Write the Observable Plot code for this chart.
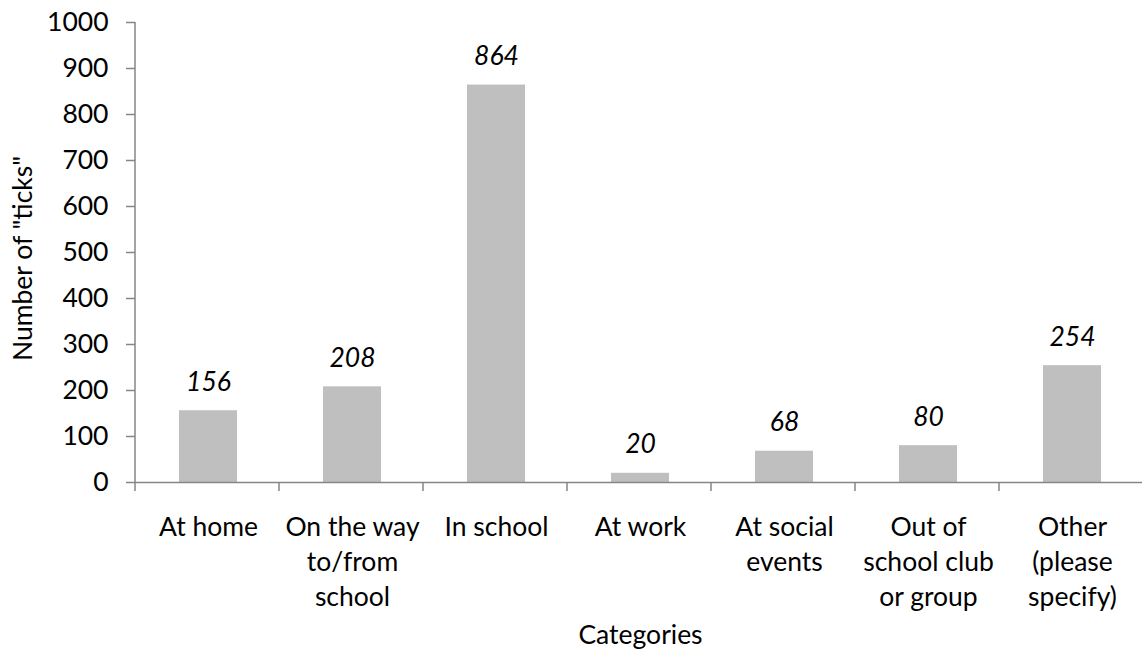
<!DOCTYPE html>
<html>
<head>
<meta charset="utf-8">
<script src="https://cdn.jsdelivr.net/npm/d3@7"></script>
<script src="https://cdn.jsdelivr.net/npm/@observablehq/plot@0.6"></script>
<style>
  html, body { margin: 0; padding: 0; background: #fff; overflow: hidden; }
  #chart svg { display: block; overflow: hidden; }
</style>
</head>
<body>
<div id="chart"></div>
<script>
const categories = ["At home", "On the way to/from school", "In school", "At work", "At social events", "Out of school club or group", "Other (please specify)"];
const tickLabels = ["At home", "On the way\nto/from\nschool", "In school", "At work", "At social\nevents", "Out of\nschool club\nor group", "Other\n(please\nspecify)"];
const counts = [156, 208, 864, 20, 68, 80, 254];
const yTicks = [0, 100, 200, 300, 400, 500, 600, 700, 800, 900, 1000];
const yLabel = "Number of \"ticks\"";
const xLabel = "Categories";

const data = categories.map((c, i) => ({category: c, label: tickLabels[i], value: counts[i]}));

const FONT = "Lato, 'Open Sans', sans-serif";
const FS = 26.5;
const AXIS = "#868686";

// boundary tick marks on the x axis and the y axis line, placed via the scales
function axisDecor(index, scales, values, dimensions) {
  const x = scales.x, y = scales.y;
  const g = d3.create("svg:g").attr("stroke", AXIS).attr("stroke-width", 1.5);
  const [r0] = x.range();
  const step = x.step();
  const y0 = y(0);
  g.append("line").attr("x1", r0).attr("x2", r0).attr("y1", y(1000)).attr("y2", y0);
  for (let i = 0; i <= categories.length; i++) {
    const xb = r0 + i * step;
    g.append("line").attr("x1", xb).attr("x2", xb).attr("y1", y0).attr("y2", y0 + 9);
  }
  return g.node();
}

const plot = Plot.plot({
  width: 1142,
  height: 650,
  marginLeft: 135,
  marginRight: -3,
  marginTop: 22,
  marginBottom: 168,
  style: {fontFamily: FONT, fontSize: FS + "px", color: "#000", background: "#fff"},
  x: {type: "band", domain: categories, paddingInner: 0.6, paddingOuter: 0.3, axis: null},
  y: {domain: [0, 1000], axis: null},
  marks: [
    Plot.barY(data, {x: "category", y: "value", fill: "#BFBFBF"}),
    Plot.ruleY([0], {stroke: AXIS, strokeWidth: 1.5}),
    axisDecor,
    Plot.axisY({ticks: yTicks, tickSize: 9, tickPadding: 18, stroke: AXIS, strokeWidth: 1.5, fill: "#000", fontSize: FS, label: null, tickFormat: d => String(d)}),
    Plot.text(data, {x: "category", y: "value", text: d => String(d.value), dy: -20, lineAnchor: "bottom", fontStyle: "italic", fontSize: FS, fill: "#000"}),
    Plot.text(data, {x: "category", y: () => 0, text: "label", dy: 28, lineAnchor: "top", lineHeight: 1.33, fontSize: FS, fill: "#000"}),
    Plot.text([xLabel], {frameAnchor: "bottom", text: d => d, dy: 161, lineAnchor: "bottom", fontSize: FS, fill: "#000"}),
    Plot.text([yLabel], {frameAnchor: "left", text: d => d, rotate: -90, dx: -112, dy: 6, textAnchor: "middle", lineAnchor: "middle", fontSize: FS, fill: "#000"})
  ]
});

document.getElementById("chart").appendChild(plot);
</script>
</body>
</html>
